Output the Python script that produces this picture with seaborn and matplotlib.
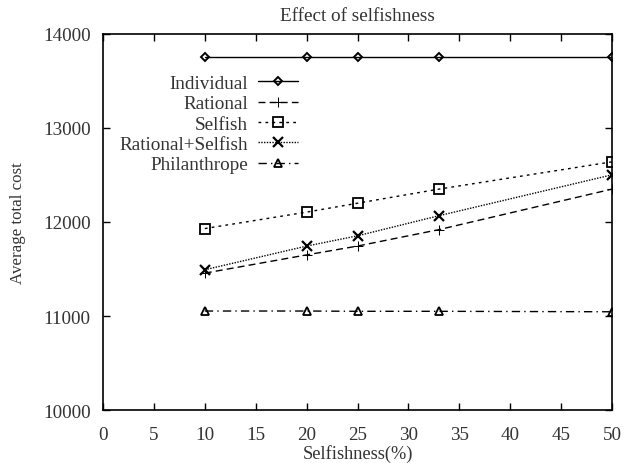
import seaborn as sns
import matplotlib.pyplot as plt

# data
selfishness = [10, 20, 25, 33, 50]
individual = [13760, 13760, 13760, 13760, 13760]
rational = [11456, 11650, 11744, 11919, 12350]
selfish = [11930, 12105, 12200, 12350, 12640]
rational_selfish = [11492, 11744, 11853, 12067, 12502]
philanthrope = [11053, 11053, 11050, 11050, 11045]

sns.set_theme(style="ticks")
plt.rcParams['font.family'] = ['Liberation Serif', 'DejaVu Serif']
txt = "#333333"
fs = 13.8

fig = plt.figure(figsize=(6.37, 4.64), dpi=100)
ax = fig.add_axes([0.1617, 0.1142, 0.7991, 0.8104])

series = [
    ("Individual", individual, "D", "-", dict(markersize=4.5, markerfacecolor="none", markeredgewidth=1.4)),
    ("Rational", rational, "+", (0, (5, 3)), dict(markersize=7)),
    ("Selfish", selfish, "s", (0, (2, 3)), dict(markersize=6.5, markerfacecolor="none", markeredgewidth=1.3)),
    ("Rational+Selfish", rational_selfish, "x", (0, (1, 1)), dict(markersize=7, markeredgewidth=1.6)),
    ("Philanthrope", philanthrope, "^", (0, (6, 3, 1, 3)), dict(markersize=6, markerfacecolor="none", markeredgewidth=1.3)),
]
for label, vals, mk, ls, kw in series:
    sns.lineplot(x=selfishness, y=vals, ax=ax, color="black", marker=mk,
                 linestyle=ls, linewidth=1.0, label=label,
                 markeredgecolor="black", **kw)

ax.set_xlim(0, 50)
ax.set_ylim(10000, 14000)
ax.set_xticks(range(0, 51, 5))
ax.set_yticks(range(10000, 14001, 1000))
ax.tick_params(direction="in", top=True, right=True, length=5, width=1,
               labelsize=fs, color="black", labelcolor=txt)
ax.tick_params(axis="x", pad=11.5)
ax.tick_params(axis="y", pad=9)
for s in ax.spines.values():
    s.set_color("black")
    s.set_linewidth(1.2)

ax.set_title("Effect of selfishness", fontsize=fs, pad=10, color=txt)
ax.set_xlabel("Selfishness(%)", fontsize=13.2, labelpad=1, color=txt)
ax.set_ylabel("Average total cost", fontsize=12.2, labelpad=12, color=txt)

leg = ax.legend(loc="upper left", bbox_to_anchor=(0.017, 0.912), frameon=False,
                markerfirst=False, fontsize=fs, handlelength=2.1,
                labelspacing=0.15, borderaxespad=0, handletextpad=0.5)
for t in leg.get_texts():
    t.set_ha("right")
    t.set_color(txt)
leg._legend_box.align = "right"

fig.savefig("out.png", dpi=100)
